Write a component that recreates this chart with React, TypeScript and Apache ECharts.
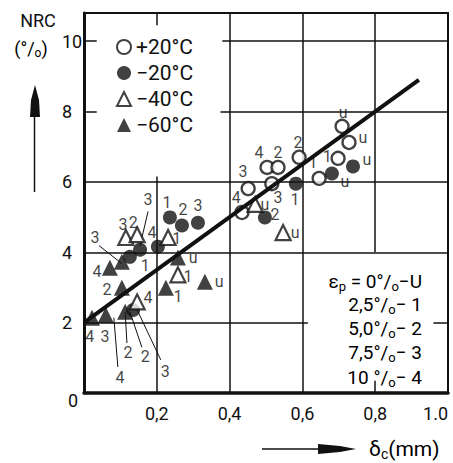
import React, { useEffect, useRef } from "react";
import * as echarts from "echarts";

const FONT = 'Roboto, "Liberation Sans", sans-serif';

// ---- axes ----
const xTickValues = [0, 0.2, 0.4, 0.6, 0.8, 1.0];
const xTickLabels = ["", "0,2", "0,4", "0,6", "0,8", "1.0"];
const yTickValues = [0, 2, 4, 6, 8, 10];
const yTickLabels = ["", "2", "4", "6", "8", "10"];

// ---- series (temperature) ----
const temperatures = ["+20°C", "−20°C", "−40°C", "−60°C"];

const plus20 = [
  [0.709, 7.58], [0.728, 7.12], [0.698, 6.67], [0.646, 6.1], [0.591, 6.7],
  [0.503, 6.41], [0.533, 6.41], [0.516, 5.95], [0.451, 5.81], [0.434, 5.13],
];
const minus20 = [
  [0.236, 4.99], [0.269, 4.76], [0.313, 4.84], [0.203, 4.16], [0.582, 5.95],
  [0.497, 4.99], [0.681, 6.24], [0.739, 6.44], [0.154, 4.07], [0.126, 3.87],
  [0.135, 2.36],
];
const minus40 = [
  [0.115, 4.42], [0.146, 4.5], [0.231, 4.42], [0.258, 3.36], [0.146, 2.59],
  [0.47, 5.36], [0.547, 4.56],
];
const minus60 = [
  [0.258, 3.85], [0.332, 3.16], [0.225, 2.99], [0.071, 3.56], [0.104, 2.99],
  [0.022, 2.14], [0.06, 2.22], [0.104, 3.73], [0.113, 2.31],
];

// regression line
const fitLine = [[0, 2.0], [0.92, 8.9]];

// point annotations (strain level code) [text, x, y]
const pointLabels: [string, number, number][] = [
  ["u", 0.712, 7.98], ["u", 0.766, 7.26], ["1", 0.668, 6.72], ["1", 0.629, 6.55],
  ["2", 0.588, 7.12], ["4", 0.481, 6.84], ["2", 0.533, 6.84], ["3", 0.533, 5.56],
  ["3", 0.437, 6.3], ["4", 0.418, 5.56],
  ["u", 0.777, 6.64], ["u", 0.717, 6.01], ["1", 0.58, 5.5], ["2", 0.525, 5.07],
  ["1", 0.228, 5.41], ["2", 0.272, 5.21], ["3", 0.313, 5.33], ["4", 0.187, 4.56],
  ["3", 0.176, 5.5], ["1", 0.168, 3.62],
  ["3", 0.107, 4.79], ["2", 0.135, 4.84], ["1", 0.255, 4.39], ["1", 0.286, 3.31],
  ["4", 0.176, 2.71], ["u", 0.497, 5.36], ["u", 0.58, 4.56],
  ["u", 0.3, 3.84], ["u", 0.371, 3.16], ["1", 0.258, 2.74], ["4", 0.036, 3.45],
  ["2", 0.063, 2.93], ["4", 0.016, 1.62], ["3", 0.058, 1.6], ["3", 0.03, 4.42],
  ["4", 0.099, 0.43], ["2", 0.121, 1.14], ["2", 0.168, 1.03], ["3", 0.223, 0.6],
];

// leader lines from labels to points [[x1,y1],[x2,y2]]
const leaderLines = [
  [[0.176, 5.16], [0.154, 4.19]],
  [[0.041, 4.19], [0.104, 3.68]],
  [[0.082, 2.14], [0.093, 0.74]],
  [[0.113, 2.31], [0.118, 1.42]],
  [[0.126, 2.31], [0.159, 1.3]],
  [[0.146, 2.36], [0.211, 0.94]],
];

// partial grid lines and ticks of the original drawing
const gridSegments = [
  [[0.2, 0], [0.2, 6.15]], [[0.2, 10.8], [0.2, 10.45]],
  [[0.4, 0], [0.4, 10.8]],
  [[0.6, 0], [0.6, 10.8]],
  [[0.8, 4], [0.8, 10.8]], [[0.8, 0], [0.8, 0.35]],
  [[0, 2], [0.615, 2]], [[0.96, 2], [1, 2]],
  [[0, 4], [1, 4]],
  [[0, 6], [1, 6]],
  [[0.375, 8], [1, 8]], [[0, 8], [0.035, 8]],
  [[0.38, 10], [1, 10]], [[0, 10], [0.035, 10]],
];

// strain legend
const strainLevels = ["0", "2,5", "5,0", "7,5", "10 "];
const strainCodes = ["U", "1", "2", "3", "4"];

export default function App() {
  const ref = useRef<HTMLDivElement>(null);

  useEffect(() => {
    if (!ref.current) return;
    const chart = echarts.init(ref.current, undefined, { renderer: "svg" });

    const tickFmt = (vals: number[], labels: string[]) => (v: number) => {
      const i = vals.findIndex((t) => Math.abs(t - v) < 1e-6);
      return i >= 0 ? labels[i] : "";
    };

    const black = "#111";
    const rich = {
      t: { fontFamily: FONT, fontSize: 19, color: black },
      s: { fontFamily: FONT, fontSize: 13, color: black, padding: [10, 0, 0, 0] },
    };
    const strainRows = strainLevels.map((lv, i) =>
      i === 0
        ? `{t|ε}{s|p}{t| = ${lv}°/}{s|o}{t|−${strainCodes[i]}}`
        : `{t|${lv}°/}{s|o}{t|− ${strainCodes[i]}}`
    );
    const rowY = [281, 304, 328, 352, 377];

    const option: any = {
      animation: false,
      backgroundColor: "#fff",
      grid: {
        left: 84, right: 5, top: 13, bottom: 70,
        show: true, borderColor: black, borderWidth: 2,
        containLabel: false, outerBoundsMode: "none",
      },
      legend: {
        orient: "vertical",
        left: 111,
        top: 31,
        itemWidth: 14,
        itemHeight: 14,
        itemGap: 4,
        data: temperatures,
        textStyle: { fontFamily: FONT, fontSize: 21, color: black, lineHeight: 22 },
      },
      xAxis: {
        type: "value", min: 0, max: 1, interval: 0.2,
        axisLine: { show: true, lineStyle: { color: black, width: 3.5 } },
        axisTick: { show: false },
        splitLine: { show: false },
        axisLabel: {
          margin: 11, fontFamily: FONT, fontSize: 18, color: black,
          formatter: tickFmt(xTickValues, xTickLabels), alignMaxLabel: "right",
        },
      },
      yAxis: {
        type: "value", min: 0, max: 10.8, interval: 2,
        axisLine: { show: true, lineStyle: { color: black, width: 3 } },
        axisTick: { show: false },
        splitLine: { show: false },
        axisLabel: {
          margin: 22, align: "left", fontFamily: FONT, fontSize: 18, color: black,
          formatter: tickFmt(yTickValues, yTickLabels),
        },
      },
      series: [
        {
          type: "lines", coordinateSystem: "cartesian2d", silent: true, z: 1,
          lineStyle: { color: black, width: 1.5, opacity: 1 },
          data: gridSegments.map((c) => ({ coords: c })),
        },
        {
          type: "lines", coordinateSystem: "cartesian2d", silent: true, z: 1,
          lineStyle: { color: black, width: 1, opacity: 1 },
          data: leaderLines.map((c) => ({ coords: c })),
        },
        {
          name: temperatures[0], type: "scatter", symbol: "circle", symbolSize: 13, z: 2,
          itemStyle: { color: "#fff", borderColor: black, borderWidth: 2.3 },
          data: plus20,
        },
        {
          name: temperatures[1], type: "scatter", symbol: "circle", symbolSize: 14, z: 2,
          itemStyle: { color: black },
          data: minus20,
        },
        {
          name: temperatures[2], type: "scatter", symbol: "triangle", symbolSize: 15, z: 2,
          itemStyle: { color: "#fff", borderColor: black, borderWidth: 2.2 },
          data: minus40,
        },
        {
          name: temperatures[3], type: "scatter", symbol: "triangle", symbolSize: 16, z: 2,
          itemStyle: { color: black },
          data: minus60,
        },
        {
          type: "line", data: fitLine, symbol: "none", z: 3, silent: true,
          lineStyle: { color: black, width: 4 },
        },
        {
          type: "scatter", symbol: "circle", symbolSize: 1, z: 4, silent: true,
          itemStyle: { color: "rgba(0,0,0,0)" },
          label: {
            show: true, position: "inside", formatter: "{b}",
            fontFamily: FONT, fontSize: 16, color: black,
          },
          data: pointLabels.map(([t, x, y]) => ({ name: t, value: [x, y] })),
        },
      ],
      graphic: [
        {
          type: "text", x: 38, y: 20,
          style: { text: "NRC", font: `18px ${FONT}`, fill: black, textAlign: "center", textVerticalAlign: "middle" },
        },
        {
          type: "text", x: 31, y: 48,
          style: {
            text: "{t|(°/}{s|o}{t|)}", textAlign: "center", textVerticalAlign: "middle",
            rich: { t: { fontFamily: FONT, fontSize: 18, color: black }, s: { fontFamily: FONT, fontSize: 12, color: black, padding: [9, 0, 0, 0] } },
          },
        },
        { type: "polygon", shape: { points: [[35, 85], [31, 100], [30, 117], [40, 117], [39, 100]] }, style: { fill: black } },
        { type: "line", shape: { x1: 34.5, y1: 116, x2: 34.5, y2: 192 }, style: { stroke: black, lineWidth: 1.5 } },
        { type: "line", shape: { x1: 262, y1: 449, x2: 320, y2: 449 }, style: { stroke: black, lineWidth: 1.5 } },
        { type: "polygon", shape: { points: [[318, 444], [340, 446], [356, 449], [340, 452], [318, 454]] }, style: { fill: black } },
        {
          type: "text", x: 369, y: 449,
          style: {
            text: "{t|δ}{s|c}{t|(mm)}", textAlign: "left", textVerticalAlign: "middle",
            rich: { t: { fontFamily: FONT, fontSize: 21, color: black }, s: { fontFamily: FONT, fontSize: 14, color: black, padding: [10, 0, 0, 0] } },
          },
        },
        {
          type: "text", x: 73, y: 400,
          style: { text: "0", font: `18px ${FONT}`, fill: black, textAlign: "center", textVerticalAlign: "middle" },
        },
        ...strainRows.map((txt, i) => ({
          type: "text", x: 422, y: rowY[i],
          style: { text: txt, rich, textAlign: "right", textVerticalAlign: "middle" },
        })),
      ],
    };

    chart.setOption(option);
    return () => chart.dispose();
  }, []);

  return (
    <div
      ref={ref}
      style={{ position: "fixed", left: 0, top: 0, width: 453, height: 463, background: "#fff" }}
    />
  );
}
